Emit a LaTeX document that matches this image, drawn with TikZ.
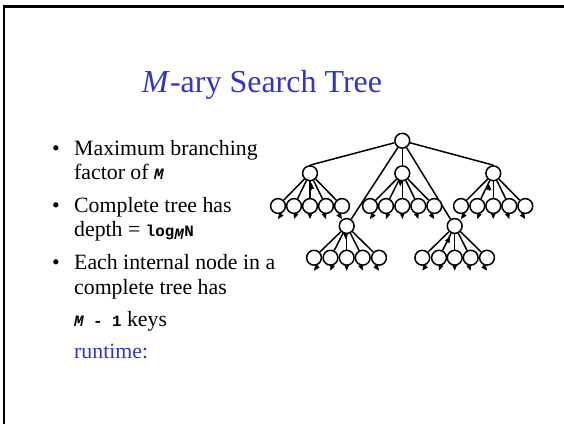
\documentclass[tikz,border=0pt]{standalone}
\usepackage{fontspec}
\setmainfont{Liberation Serif}
\setmonofont{Liberation Mono}
\usetikzlibrary{calc,arrows.meta,backgrounds}
\definecolor{slideblue}{RGB}{51,51,204}

% bold (and bold italic) typewriter at a smaller size than the body text
\newcommand{\cb}[1]{{\fontsize{15.8}{18}\selectfont\ttfamily\bfseries #1}}
\newcommand{\cbi}[1]{{\fontsize{15.8}{18}\selectfont\ttfamily\bfseries\itshape #1}}

\begin{document}
\begin{tikzpicture}[x=1pt,y=-1pt,
  tnode/.style={circle,draw,fill=white,line width=1.5pt,minimum size=14.8pt,inner sep=0pt},
  edge/.style={line width=1.5pt},
  tip/.style={line width=0.6pt,-{Triangle[length=6pt,width=5pt]}},
  body/.style={anchor=base west,inner sep=0pt,font=\fontsize{21.8}{26}\selectfont},
  bullet/.style={anchor=base west,inner sep=0pt,font=\fontsize{21.8}{26}\selectfont}]
\useasboundingbox (0,0) rectangle (564,424);

% slide frame
\draw[line width=2.5pt] (4,424) -- (4,6.7) -- (564,6.7);

% title
\node[anchor=base,inner sep=0pt,text=slideblue,font=\fontsize{32}{38}\selectfont]
  (title) at (262,92) {\textit{M}-ary Search Tree};

% bullet list
\node[bullet] (b1) at (52,155) {\textbullet};
\node[body] (t1) at (74,155) {Maximum branching};
\node[body] (t2) at (74,179) {factor of \cbi{M}};
\node[bullet] (b2) at (52,212.7) {\textbullet};
\node[body] (t3) at (74,212.7) {Complete tree has};
\node[body] (t4) at (74,236.7) {depth = \cb{log}\textsubscript{\cbi{M}}\cb{N}};
\node[bullet] (b3) at (52,269.3) {\textbullet};
\node[body] (t5) at (74,269.3) {Each internal node in a};
\node[body] (t6) at (74,294) {complete tree has};
\node[body] (t7) at (74,326.7) {\cbi{M}\cb{ - 1} keys};
\node[body,text=slideblue] (t8) at (74,358.3) {runtime:};

% the 5-ary tree
\node[tnode] (root) at (402.3,140.7) {};
\node[tnode] (a) at (310,173.3) {};
\node[tnode] (b) at (402.3,173.3) {};
\node[tnode] (c) at (493.3,173.3) {};
\node[tnode] (d) at (346.7,226) {};
\node[tnode] (e) at (454.7,226) {};

\foreach \i/\x in {1/278,2/294,3/310,4/326,5/342}
  \node[tnode] (a\i) at (\x,206) {};
\foreach \i/\x in {1/370,2/386,3/402.3,4/418.3,5/434.3}
  \node[tnode] (b\i) at (\x,206) {};
\foreach \i/\x in {1/461,2/477.3,3/493.3,4/509.3,5/525.3}
  \node[tnode] (c\i) at (\x,206) {};
\foreach \i/\x in {1/314,2/330.5,3/346.7,4/362.7,5/379}
  \node[tnode] (d\i) at (\x,257.7) {};
\foreach \i/\x in {1/422.3,2/439,3/454.7,4/470.7,5/487}
  \node[tnode] (e\i) at (\x,257.7) {};

\begin{scope}[on background layer]
  \draw[edge] (root) -- (a.north);
  \draw[edge] (root) -- (b);
  \draw[edge] (root) -- (c.north);
  \draw[edge] (root) -- (d);
  \draw[edge] (root) -- (e);
  \foreach \p in {a,b,c,d,e}{
    \foreach \i in {1,...,5}{
      \draw[edge] (\p) -- (\p\i);
      \coordinate (T) at ($(\p\i)+(0,13)$);
      \draw[tip] ($(T)!7pt!(\p)$) -- (T);
    }
  }
\end{scope}

% small arrowheads just below the inner nodes
\draw[tip] ($(a.south)+(1.5,8)$) -- ($(a.south)+(1.5,1.5)$);
\draw[tip] ($(b.south)+(-2,-1.5)$) -- ($(b.south)+(-2,5)$);
\draw[tip] ($(c.south)+(-4.5,9)$) -- ($(c.south)+(-4.5,2.5)$);
\draw[tip] ($(d.south)+(-1,-1.5)$) -- ($(d.south)+(-1,5)$);
\draw[tip] ($(e.south)+(-8,8.5)$) -- ($(e.south)+(-4.5,2.5)$);
\end{tikzpicture}
\end{document}
